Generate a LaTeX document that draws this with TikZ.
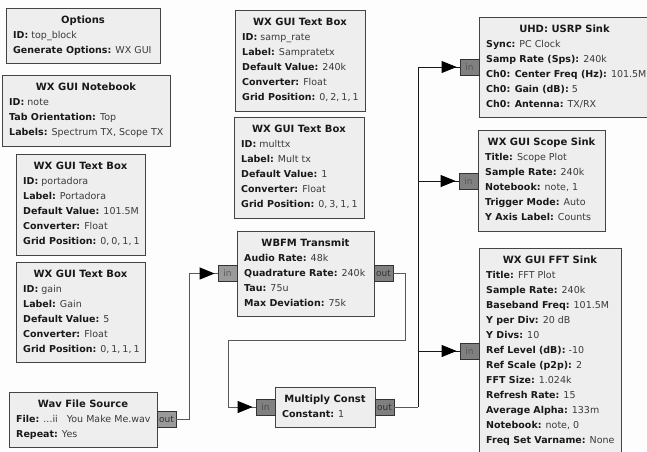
\documentclass[tikz,border=0pt]{standalone}
\usepackage{fontspec}
\setmainfont{DejaVu Sans}
\usetikzlibrary{arrows.meta,decorations.markings}
\definecolor{pagebg}{HTML}{FDFDFD}
\definecolor{blockfill}{HTML}{EEEEEE}
\definecolor{edgeA}{HTML}{444444}
\definecolor{portA}{HTML}{9A9A9A}
\definecolor{portB}{HTML}{808080}
\definecolor{txt}{HTML}{3A3A3A}
\tikzset{
  x=1pt,y=-1pt,
  prt/.style={draw=black!80,fill=portA,line width=0.8pt,minimum width=19pt,minimum height=16pt,inner sep=0pt,text=black!65,font=\fontsize{9}{10}\selectfont},
  arrowed/.style={postaction={decorate},
    decoration={markings,mark=at position -3pt with {\arrow{Triangle[length=15pt,width=12pt,black]}}}},
  wire/.style={draw=black!65,line width=1pt,arrowed},
  buswire/.style={draw=black!90,line width=0.8pt,arrowed},
  plain/.style={draw=black!65,line width=1pt}
}
\newcommand{\bx}[7]{% name, x1,y1,x2,y2, title, rows
  \fill[blockfill,draw=edgeA,line width=0.9pt] (#2,#3) rectangle (#4,#5);
  \coordinate (#1) at (#2,#3);
  \node[font=\fontsize{10}{10}\selectfont\bfseries,text=black!90,anchor=base] (#1t) at ({(#2+#4)/2},{#3+15}) {#6};
  \foreach \val [count=\i] in {#7} {\node[font=\fontsize{9.5}{10}\selectfont,text=txt,anchor=base west,inner sep=0pt] at ({#2+7},{#3+15+15*\i}) {\val};}
}
\newcommand{\kv}[2]{\textbf{\textcolor{black!90}{#1:}} #2}
\newcommand{\gridpos}[4]{\kv{Grid Position}{#1,\hspace{2pt}#2,\hspace{2pt}#3,\hspace{2pt}#4}}
\begin{document}
\begin{tikzpicture}
\useasboundingbox[fill=pagebg] (0,0) rectangle (647,451);
\bx{opt}{6}{8}{160}{63}{Options}{\kv{ID}{top\_block},\kv{Generate Options}{WX GUI}}
\bx{nb}{2}{75}{170}{146}{WX GUI Notebook}{\kv{ID}{note},\kv{Tab Orientation}{Top},{\kv{Labels}{Spectrum TX, Scope TX}}}
\bx{por}{16}{154}{145}{255}{WX GUI Text Box}{\kv{ID}{portadora},\kv{Label}{Portadora},\kv{Default Value}{101.5M},\kv{Converter}{Float},\gridpos{0}{0}{1}{1}}
\bx{gain}{16}{262}{145}{362}{WX GUI Text Box}{\kv{ID}{gain},\kv{Label}{Gain},\kv{Default Value}{5},\kv{Converter}{Float},\gridpos{0}{1}{1}{1}}
\bx{samp}{235}{10}{365}{111}{WX GUI Text Box}{\kv{ID}{samp\_rate},\kv{Label}{Sampratetx},\kv{Default Value}{240k},\kv{Converter}{Float},\gridpos{0}{2}{1}{1}}
\bx{mult}{234}{117}{364}{218}{WX GUI Text Box}{\kv{ID}{multtx},\kv{Label}{Mult tx},\kv{Default Value}{1},\kv{Converter}{Float},\gridpos{0}{3}{1}{1}}
\bx{wav}{9}{392}{157}{447}{Wav File Source}{\kv{File}{...ii\ \ \ You Make Me.wav},\kv{Repeat}{Yes}}
\bx{wbfm}{237}{231}{374}{316}{WBFM Transmit}{\kv{Audio Rate}{48k},\kv{Quadrature Rate}{240k},\kv{Tau}{75u},\kv{Max Deviation}{75k}}
\bx{mc}{275}{387}{375}{427}{Multiply Const}{\kv{Constant}{1}}
\bx{uhd}{479}{17}{650}{117}{UHD: USRP Sink}{\kv{Sync}{PC Clock},\kv{Samp Rate (Sps)}{240k},\kv{Ch0: Center Freq (Hz)}{101.5M},\kv{Ch0: Gain (dB)}{5},\kv{Ch0: Antenna}{TX/RX}}
\bx{sc}{478}{130}{605}{231}{WX GUI Scope Sink}{\kv{Title}{Scope Plot},\kv{Sample Rate}{240k},{\kv{Notebook}{note, 1}},\kv{Trigger Mode}{Auto},\kv{Y Axis Label}{Counts}}
\bx{fft}{479}{248}{621}{460}{WX GUI FFT Sink}{\kv{Title}{FFT Plot},\kv{Sample Rate}{240k},\kv{Baseband Freq}{101.5M},\kv{Y per Div}{20 dB},\kv{Y Divs}{10},\kv{Ref Level (dB)}{-10},\kv{Ref Scale (p2p)}{2},\kv{FFT Size}{1.024k},\kv{Refresh Rate}{15},\kv{Average Alpha}{133m},{\kv{Notebook}{note, 0}},\kv{Freq Set Varname}{None}}
% ports
\node[prt,text=black!80] (wavout) at (166.5,419) {out};
\node[prt] (wbin) at (227.5,273.5) {in};
\node[prt,fill=portB,text=black!80] (wbout) at (383.5,273.5) {out};
\node[prt,fill=portB,text=black!70] (mcin) at (265.5,407) {in};
\node[prt,fill=portB,text=black!80] (mcout) at (384.5,407) {out};
\node[prt,fill=portB] (uhdin) at (469.5,67) {in};
\node[prt,fill=portB] (scin) at (468.5,181) {in};
\node[prt,fill=portB] (fftin) at (469.5,351) {in};
% connectors
\coordinate (bus) at (418,407);
\draw[wire] (wavout.east) -- ++(13,0) |- (wbin.west);
\draw[wire] (wbout.east) -- (405,273.5) -- (405,340) -- (228,340) |- (mcin.west);
\draw[plain] (mcout.east) -- (bus);
\draw[buswire] (bus) |- (uhdin.west);
\draw[buswire] (bus |- scin.west) -- (scin.west);
\draw[buswire] (bus |- fftin.west) -- (fftin.west);
\end{tikzpicture}
\end{document}
